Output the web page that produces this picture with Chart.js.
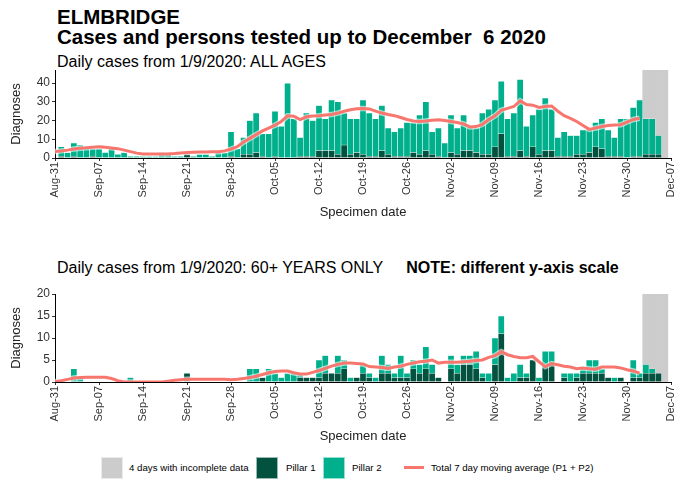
<!DOCTYPE html>
<html>
<head>
<meta charset="utf-8">
<title>Elmbridge cases</title>
<script src="https://cdn.jsdelivr.net/npm/chart.js@4.4.0/dist/chart.umd.min.js"></script>
<style>
  body { margin: 0; background: #fff; font-family: 'Liberation Sans', Arial, sans-serif; }
  #page { position: relative; width: 674px; height: 485px; overflow: hidden; }
  .txt { position: absolute; left: 57px; white-space: nowrap; color: #000; }
  .head { font-size: 20.5px; font-weight: bold; line-height: 20px; }
  .sub { font-size: 16px; line-height: 16px; }
  canvas { position: absolute; left: 0; }
  .key { position: absolute; top: 457px; width: 22px; height: 22px; box-sizing: border-box; border: 1px solid rgba(255,255,255,0.6); }
  .keytext { position: absolute; top: 462px; font-size: 9.7px; line-height: 12px; color: #000; white-space: nowrap; }
  .keyline { position: absolute; top: 466px; width: 20px; height: 3px; background: #F8766D; }
</style>
</head>
<body>
<div id="page">
  <div class="txt head" style="top:7px">ELMBRIDGE</div>
  <div class="txt head" style="top:27px">Cases and persons tested up to December&nbsp; 6 2020</div>
  <div class="txt sub" style="top:54px">Daily cases from 1/9/2020: ALL AGES</div>
  <canvas id="allAges" width="674" height="160" style="top:64px"></canvas>
  <div class="txt sub" style="top:260px">Daily cases from 1/9/2020: 60+ YEARS ONLY<span style="display:inline-block;width:23px"></span><b>NOTE: different y-axis scale</b></div>
  <canvas id="over60" width="674" height="160" style="top:288px"></canvas>

  <div class="key" style="left:101px;background:#CCCCCC"></div>
  <div class="keytext" style="left:129px">4 days with incomplete data</div>
  <div class="key" style="left:256px;background:#03523F"></div>
  <div class="keytext" style="left:286px">Pillar 1</div>
  <div class="key" style="left:323px;background:#00B08C"></div>
  <div class="keytext" style="left:352px">Pillar 2</div>
  <div class="keyline" style="left:404px"></div>
  <div class="keytext" style="left:431px">Total 7 day moving average (P1 + P2)</div>
</div>

<script>
// x positions are days counted from 31 August 2020
// bars: day 1 (1 Sep) .. day 97 (6 Dec); averages: day 0 .. day 93
const dayTicks = ['Aug-31', 'Sep-07', 'Sep-14', 'Sep-21', 'Sep-28', 'Oct-05', 'Oct-12',
  'Oct-19', 'Oct-26', 'Nov-02', 'Nov-09', 'Nov-16', 'Nov-23', 'Nov-30', 'Dec-07'];
const incompleteDays = [94, 95, 96, 97];

// all ages
const allPillar1 = [
  1, 0, 1, 0, 0, 1, 0, 0, 0, 0,
  0, 0, 0, 0, 0, 0, 0, 0, 0, 0,
  2, 0, 0, 0, 0, 0, 0, 1, 0, 2,
  2, 3, 1, 0, 1, 0, 0, 0, 1, 1,
  1, 4, 4, 4, 2, 7, 2, 3, 2, 1,
  1, 4, 2, 1, 1, 1, 3, 2, 4, 2,
  1, 0, 3, 2, 4, 4, 3, 2, 2, 6,
  13, 1, 1, 4, 1, 6, 2, 4, 4, 1,
  1, 1, 2, 2, 3, 6, 5, 1, 1, 1,
  0, 1, 1, 2, 2, 2, 0];
const allPillar2 = [
  5, 3, 7, 7, 5, 4, 5, 3, 5, 2,
  3, 1, 1, 1, 1, 1, 3, 3, 1, 1,
  0, 1, 2, 2, 1, 3, 3, 13, 5, 9,
  18, 21, 12, 13, 24, 17, 40, 21, 10, 23,
  19, 24, 17, 27, 28, 17, 19, 18, 29, 23,
  20, 24, 14, 13, 15, 18, 16, 21, 26, 12,
  15, 8, 20, 14, 19, 13, 13, 22, 24, 25,
  28, 20, 23, 38, 16, 17, 24, 28, 22, 10,
  13, 11, 10, 13, 13, 13, 16, 14, 10, 20,
  21, 26, 30, 19, 19, 10, 0];
const allAverage = [
  3.5, 3.8, 4.2, 4.8, 5.2, 5.5, 5.8, 6.0, 5.8, 5.4,
  5.0, 4.2, 3.4, 2.6, 2.2, 2.1, 2.1, 2.1, 2.2, 2.4,
  2.7, 3.0, 3.1, 3.2, 3.2, 3.3, 3.4, 3.8, 4.8, 6.0,
  8.5, 10.5, 12.5, 14.5, 16.0, 17.5, 19.5, 22.5, 22.3, 20.5,
  22.0, 22.4, 22.6, 23.0, 23.2, 24.0, 25.0, 25.8, 26.3, 26.5,
  26.2, 25.0, 24.0, 23.2, 22.6, 21.6, 20.6, 19.8, 19.5, 19.8,
  20.2, 20.4, 20.0, 19.5, 19.0, 18.2, 16.6, 16.8, 18.0, 20.5,
  22.5, 25.5, 26.5, 27.5, 30.5, 28.6, 28.2, 27.0, 27.5, 27.8,
  25.0, 22.6, 21.2, 19.5, 17.4, 15.3, 16.0, 16.8, 17.3, 17.6,
  17.8, 19.2, 20.6, 21.2];

// 60+ years only
const oldPillar1 = [
  0, 0, 0, 0, 0, 0, 0, 0, 0, 0,
  0, 0, 0, 0, 0, 0, 0, 0, 0, 0,
  2, 0, 0, 0, 0, 0, 0, 0, 0, 0,
  0, 0, 1, 0, 0, 0, 0, 0, 1, 1,
  1, 1, 2, 2, 2, 3, 0, 1, 2, 1,
  0, 2, 2, 1, 1, 1, 3, 2, 3, 2,
  1, 0, 3, 2, 4, 4, 3, 1, 0, 4,
  11, 0, 0, 1, 1, 5, 0, 4, 4, 0,
  1, 0, 1, 2, 2, 2, 2, 1, 0, 1,
  0, 1, 1, 2, 2, 2, 0];
const oldPillar2 = [
  0, 0, 3, 1, 0, 0, 0, 0, 0, 0,
  0, 1, 0, 0, 0, 0, 0, 0, 0, 0,
  0, 0, 0, 0, 0, 0, 0, 0, 0, 0,
  3, 3, 0, 3, 2, 1, 2, 2, 1, 0,
  0, 4, 4, 0, 4, 2, 1, 0, 2, 1,
  1, 4, 2, 1, 5, 1, 2, 2, 5, 2,
  0, 0, 3, 2, 2, 2, 4, 1, 2, 6,
  4, 1, 2, 3, 1, 0, 1, 3, 3, 0,
  1, 2, 1, 1, 3, 3, 1, 0, 1, 0,
  0, 4, 1, 2, 1, 0, 0];
const oldAverage = [
  0.1, 0.3, 0.6, 0.9, 1.0, 1.1, 1.1, 1.1, 1.1, 0.8,
  0.3, 0, 0, 0, 0, 0, 0, 0, 0.2, 0.4,
  0.5, 0.6, 0.6, 0.6, 0.6, 0.6, 0.6, 0.6, 0.5, 0.6,
  0.8, 1.0, 1.3, 1.7, 2.1, 2.4, 2.5, 2.5, 2.1, 1.8,
  1.8, 2.2, 2.6, 3.1, 3.6, 4.0, 4.3, 4.3, 4.2, 4.1,
  3.5, 3.4, 3.3, 3.1, 3.4, 3.6, 4.0, 4.3, 4.6, 4.7,
  5.0, 4.3, 4.5, 4.5, 4.5, 4.6, 4.7, 4.9, 5.0, 5.6,
  6.0, 6.9, 6.2, 5.8, 5.5, 5.5, 5.8, 4.6, 3.5, 4.2,
  3.9, 3.6, 3.4, 3.0, 3.2, 3.0, 2.9, 3.4, 3.4, 3.4,
  3.2, 2.8, 2.5, 2.0];

const colPillar1 = '#03523F';
const colPillar2 = '#00B08C';
const colGrey = '#CCCCCC';
const colAvg = '#F8766D';

Chart.defaults.font.family = "'Liberation Sans', Arial, sans-serif";
Chart.defaults.color = '#333';

function points(values, firstDay) {
  return values.map((v, i) => ({ x: firstDay + i, y: v }));
}

function drawPanel(id, p1, p2, avg, yMax, yTicks) {
  const barStyle = {
    stack: 'pillars', order: 2,
    borderColor: 'rgba(255,255,255,0.45)', borderWidth: 0.6,
    barPercentage: 1, categoryPercentage: 1
  };
  const lineStyle = { type: 'line', pointRadius: 0, tension: 0 };
  return new Chart(document.getElementById(id), {
    type: 'bar',
    data: {
      datasets: [
        Object.assign({ label: 'Total 7 day moving average (P1 + P2)', data: points(avg, 0),
          borderColor: colAvg, borderWidth: 3, order: 0, stack: 'avg' }, lineStyle),
        // pale edge under the average line (own stack so it is not added on top)
        Object.assign({ label: 'edge', data: points(avg, 0),
          borderColor: 'rgba(255,255,255,0.6)', borderWidth: 5.5, order: 1, stack: 'avgEdge' }, lineStyle),
        Object.assign({ label: 'Pillar 1', data: points(p1, 1), backgroundColor: colPillar1 }, barStyle),
        Object.assign({ label: 'Pillar 2', data: points(p2, 1), backgroundColor: colPillar2 }, barStyle),
        {
          label: '4 days with incomplete data',
          data: incompleteDays.map(d => ({ x: d, y: yMax })),
          backgroundColor: colGrey, borderWidth: 0, stack: 'incomplete',
          grouped: false, order: 5, barPercentage: 1, categoryPercentage: 1
        }
      ]
    },
    options: {
      responsive: false,
      animation: false,
      layout: { padding: { top: 6, right: 3, bottom: 0, left: 0 } },
      plugins: { legend: { display: false }, tooltip: { enabled: false } },
      scales: {
        x: {
          type: 'linear', min: 0, max: 98, offset: false, stacked: true,
          grid: { display: true, drawOnChartArea: false, tickLength: 3, color: '#333', offset: false },
          border: { display: true, color: '#000', width: 1 },
          ticks: {
            minRotation: 90, maxRotation: 90, autoSkip: false, padding: 1,
            font: { size: 11 }, color: '#333',
            callback: v => dayTicks[v / 7]
          },
          afterBuildTicks: s => { s.ticks = dayTicks.map((_, i) => ({ value: i * 7 })); },
          afterFit: s => { s.height = 66; s.paddingLeft = 0; s.paddingRight = 0; },
          title: { display: true, text: 'Specimen date', color: '#222', font: { size: 13 }, padding: { top: 0, bottom: 4 } }
        },
        y: {
          min: 0, max: yMax, stacked: true,
          grid: { display: true, drawOnChartArea: false, tickLength: 3, color: '#333' },
          border: { display: true, color: '#000', width: 1 },
          ticks: { padding: 2, font: { size: 12 }, color: '#333' },
          afterBuildTicks: s => { s.ticks = yTicks.map(v => ({ value: v })); },
          afterFit: s => { s.width = 55; s.paddingTop = 0; s.paddingBottom = 0; },
          title: { display: true, text: 'Diagnoses', color: '#222', font: { size: 13 }, padding: { top: 9, bottom: 0 } }
        }
      }
    }
  });
}

drawPanel('allAges', allPillar1, allPillar2, allAverage, 47, [0, 10, 20, 30, 40]);
drawPanel('over60', oldPillar1, oldPillar2, oldAverage, 20, [0, 5, 10, 15, 20]);
</script>
</body>
</html>
